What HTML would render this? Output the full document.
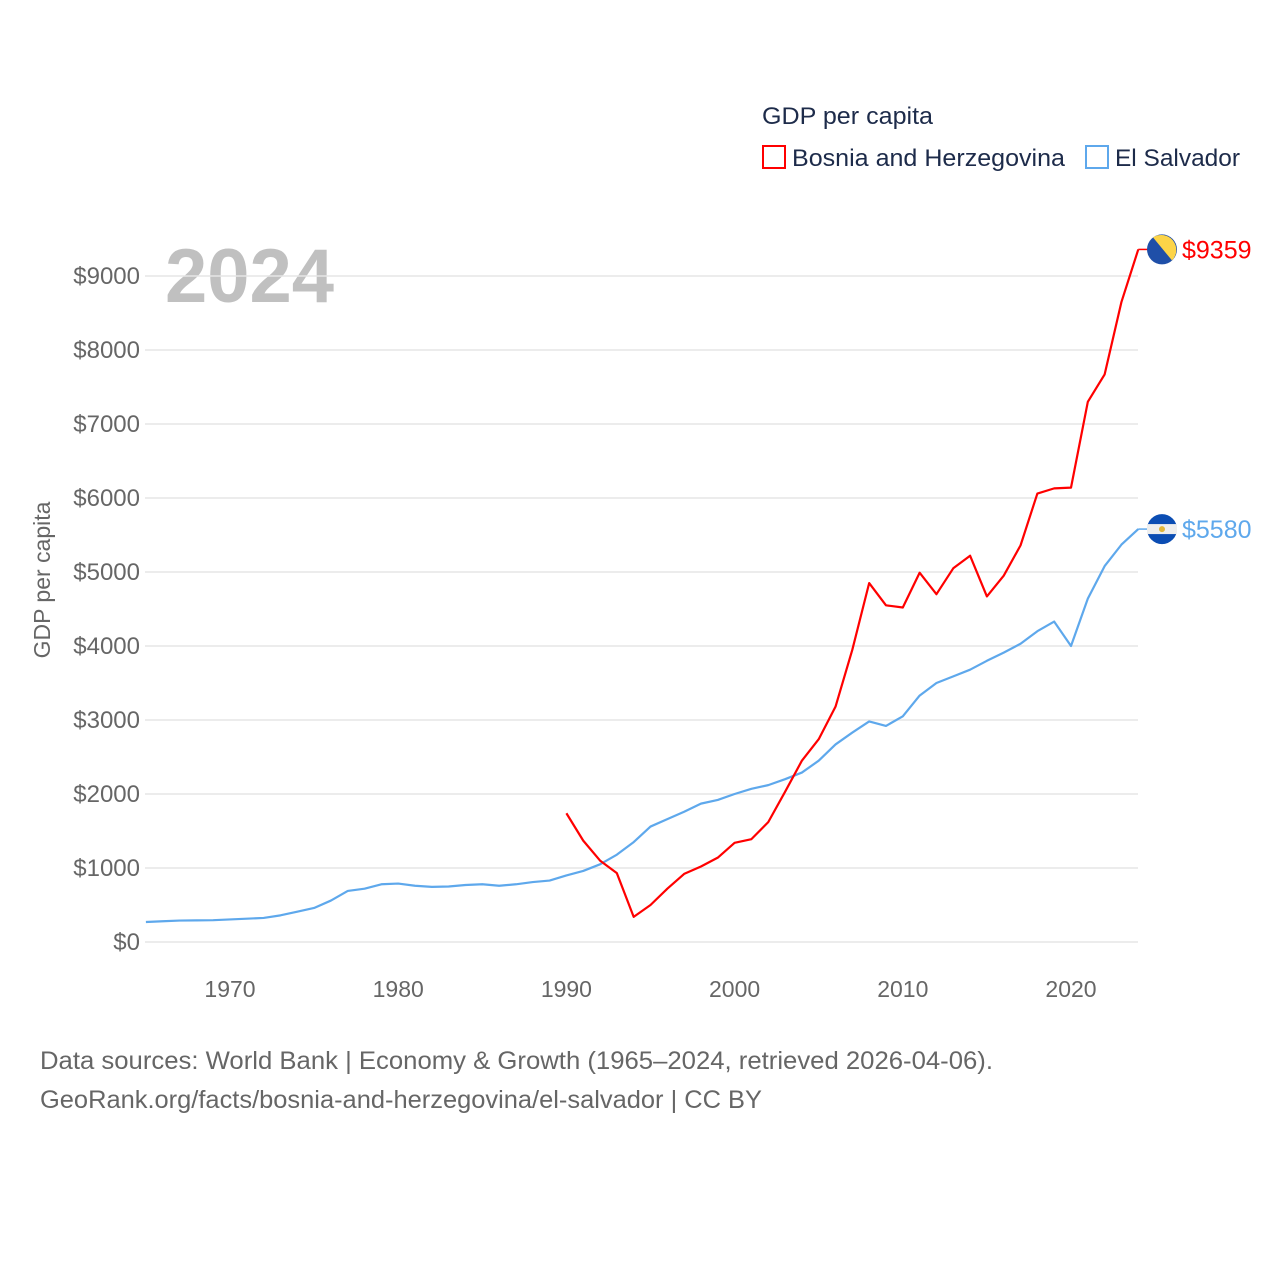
<!DOCTYPE html>
<html><head><meta charset="utf-8">
<style>
body{margin:0;background:#fff;font-family:"Liberation Sans",sans-serif;}
svg{display:block}
</style></head>
<body>
<svg id="chart" width="1280" height="1280">
<text x="762" y="124" font-size="24" fill="#1d2b4a" textLength="171" lengthAdjust="spacingAndGlyphs">GDP per capita</text>
<g><rect x="763" y="146" width="22" height="22" fill="none" stroke="#ff0000" stroke-width="2"/><text x="792" y="166" font-size="24" fill="#1d2b4a" textLength="273" lengthAdjust="spacingAndGlyphs">Bosnia and Herzegovina</text></g>
<g><rect x="1086" y="146" width="22" height="22" fill="none" stroke="#5ea8ec" stroke-width="2"/><text x="1115" y="166" font-size="24" fill="#1d2b4a" textLength="125" lengthAdjust="spacingAndGlyphs">El Salvador</text></g>
<text x="165" y="302" font-size="76" font-weight="bold" fill="#c0c0c0">2024</text>
<text transform="translate(50,580) rotate(-90)" text-anchor="middle" font-size="23" fill="#666">GDP per capita</text>
<g id="grid"></g><g id="lines"></g><g id="ends"></g>
<text x="40" y="1069" font-size="25" fill="#666" textLength="953" lengthAdjust="spacingAndGlyphs">Data sources: World Bank | Economy &amp; Growth (1965–2024, retrieved 2026-04-06).</text>
<text x="40" y="1108" font-size="25" fill="#666" textLength="722" lengthAdjust="spacingAndGlyphs">GeoRank.org/facts/bosnia-and-herzegovina/el-salvador | CC BY</text>
</svg>
<script>
const yTicks=[0,1000,2000,3000,4000,5000,6000,7000,8000,9000];
const xTicks=[1970,1980,1990,2000,2010,2020];
const slvYears=[1965,1966,1967,1968,1969,1970,1971,1972,1973,1974,1975,1976,1977,1978,1979,1980,1981,1982,1983,1984,1985,1986,1987,1988,1989,1990,1991,1992,1993,1994,1995,1996,1997,1998,1999,2000,2001,2002,2003,2004,2005,2006,2007,2008,2009,2010,2011,2012,2013,2014,2015,2016,2017,2018,2019,2020,2021,2022,2023,2024];
const slvValues=[270,280,290,292,295,305,315,325,360,410,460,560,690,720,780,790,760,745,750,770,780,760,780,810,830,900,960,1050,1180,1350,1560,1660,1760,1870,1920,2000,2070,2120,2200,2290,2450,2670,2830,2980,2920,3050,3330,3500,3590,3680,3800,3910,4030,4200,4330,4000,4640,5080,5370,5580];
const bihYears=[1990,1991,1992,1993,1994,1995,1996,1997,1998,1999,2000,2001,2002,2003,2004,2005,2006,2007,2008,2009,2010,2011,2012,2013,2014,2015,2016,2017,2018,2019,2020,2021,2022,2023,2024];
const bihValues=[1740,1370,1100,930,340,500,720,920,1020,1140,1340,1390,1620,2030,2450,2740,3180,3950,4850,4550,4520,4990,4700,5050,5220,4670,4950,5360,6060,6130,6140,7300,7670,8650,9359];
const NS="http://www.w3.org/2000/svg";
const x=yr=>145.9+(yr-1965)*16.82;
const y=v=>942-v*0.074;
function el(t,a,p){const e=document.createElementNS(NS,t);for(const k in a)e.setAttribute(k,a[k]);p.appendChild(e);return e;}
const grid=document.getElementById('grid');
yTicks.forEach(v=>{
  const l=el('line',{x1:145,x2:1138,y1:y(v),y2:y(v),stroke:'#e6e6e6','stroke-width':1.5},grid);
  
  
  const t=el('text',{x:140,y:y(v)+8,'text-anchor':'end','font-size':24,fill:'#666'},grid);
  t.textContent='$'+v;
  
  
});
xTicks.forEach(v=>{
  const t=el('text',{x:x(v),y:997,'text-anchor':'middle','font-size':23,fill:'#666'},grid);
  t.textContent=v;
  
  
});
const lines=document.getElementById('lines');
function series(yrs,vals,color,name){
  const p=el('polyline',{points:yrs.map((yr,i)=>x(yr)+','+y(vals[i])).join(' '),fill:'none',stroke:color,'stroke-width':2.2,'stroke-linejoin':'round'},lines);
  
  
  const ly=y(vals[vals.length-1]), lx=x(yrs[yrs.length-1]);
  const ends=document.getElementById('ends');
  el('line',{x1:lx,x2:lx+10,y1:ly,y2:ly,stroke:color,'stroke-width':1.5},ends);
  const t=el('text',{x:1182,y:ly+9,'font-size':25,fill:color},ends);
  t.textContent='$'+vals[vals.length-1];
  
  
  return ly;
}
series(slvYears,slvValues,'#5ea8ec','el-salvador-line');
series(bihYears,bihValues,'#ff0000','bosnia-line');
const ends=document.getElementById('ends');
const by=y(bihValues[bihValues.length-1]);
const g1=el('g',{},ends);


el('circle',{cx:1162,cy:by,r:15,fill:'#1f4fa8'},g1);
el('path',{d:`M1153,${by-12} A15,15 0 0 1 1172,${by+11} Z`,fill:'#fcd448'},g1);
const sy=y(slvValues[slvValues.length-1]);
const g2=el('g',{},ends);


el('circle',{cx:1162,cy:sy,r:15,fill:'#0b4db3'},g2);
el('rect',{x:1147,y:sy-5,width:30,height:10,fill:'#eee'},g2);
el('circle',{cx:1162,cy:sy,r:3,fill:'#e0b63a'},g2);
</script>
</body></html>
